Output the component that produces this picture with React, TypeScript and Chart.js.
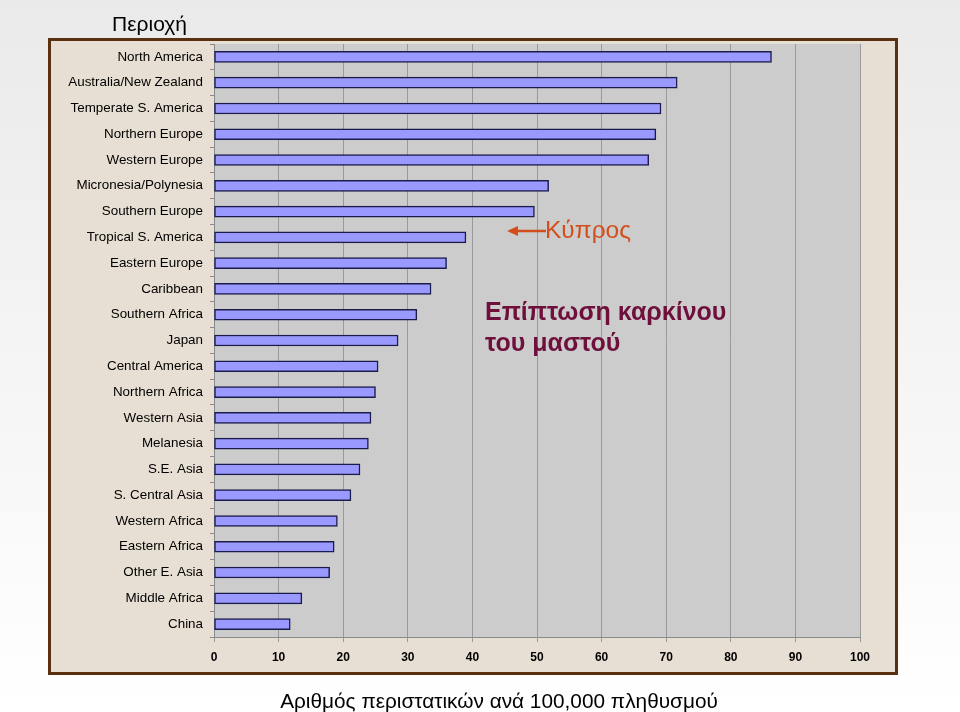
import React, { useEffect, useRef } from "react";
import { Chart, registerables } from "chart.js";

Chart.register(...registerables);

const regions = [
  "North America",
  "Australia/New Zealand",
  "Temperate S. America",
  "Northern Europe",
  "Western Europe",
  "Micronesia/Polynesia",
  "Southern Europe",
  "Tropical S. America",
  "Eastern Europe",
  "Caribbean",
  "Southern Africa",
  "Japan",
  "Central America",
  "Northern Africa",
  "Western Asia",
  "Melanesia",
  "S.E. Asia",
  "S. Central Asia",
  "Western Africa",
  "Eastern Africa",
  "Other E. Asia",
  "Middle Africa",
  "China",
];

const incidence = [
  86.3, 71.7, 69.2, 68.4, 67.3, 51.8, 49.6, 39.0, 36.0, 33.6, 31.4, 28.5,
  25.4, 25.0, 24.3, 23.9, 22.6, 21.2, 19.1, 18.6, 17.9, 13.6, 11.8,
];

const xMin = 0;
const xMax = 100;
const xStep = 10;

const titleRegion = "Περιοχή";
const titleAxis = "Αριθμός περιστατικών ανά 100,000 πληθυσμού";
const noteCyprus = "Κύπρος";
const noteLines = ["Επίπτωση καρκίνου", "του μαστού"];

const plotBg = {
  id: "plotBg",
  beforeDraw(chart: any) {
    const { ctx, chartArea } = chart;
    ctx.save();
    ctx.fillStyle = "#cccccc";
    ctx.fillRect(
      chartArea.left,
      chartArea.top,
      chartArea.right - chartArea.left,
      chartArea.bottom - chartArea.top
    );
    ctx.restore();
  },
};

export default function App() {
  const ref = useRef<HTMLCanvasElement>(null);

  useEffect(() => {
    if (!ref.current) return;
    const chart = new Chart(ref.current, {
      type: "bar",
      data: {
        labels: regions,
        datasets: [
          {
            data: incidence,
            backgroundColor: "#9999ff",
            borderColor: "#1c1c4c",
            borderWidth: 1.5,
            borderSkipped: false,
            barThickness: 11,
          },
        ],
      },
      options: {
        indexAxis: "y",
        animation: false,
        responsive: false,
        maintainAspectRatio: false,
        layout: { padding: { top: 44, right: 100, bottom: 0, left: 0 } },
        plugins: {
          legend: { display: false },
          tooltip: { enabled: false },
        },
        scales: {
          x: {
            min: xMin,
            max: xMax,
            ticks: {
              stepSize: xStep,
              color: "#000",
              padding: 8,
              font: { family: "Liberation Sans, Arial, sans-serif", size: 12, weight: "bold" },
            },
            grid: {
              color: "#9a9a9a",
              lineWidth: 1,
              tickLength: 5,
            },
            border: { color: "#8a8a8a", width: 1 },
            afterFit: (s: any) => {
              s.height = 75;
            },
          },
          y: {
            ticks: {
              color: "#000",
              padding: 7,
              autoSkip: false,
              font: { family: "Liberation Sans, Arial, sans-serif", size: 13.4 },
            },
            grid: {
              drawOnChartArea: false,
              offset: true,
              color: "#8a8a8a",
              tickLength: 4,
            },
            border: { color: "#8a8a8a", width: 1 },
            afterFit: (s: any) => {
              s.width = 214;
            },
          },
        },
      },
      plugins: [plotBg],
    });
    return () => chart.destroy();
  }, []);

  return (
    <div
      style={{
        position: "absolute",
        left: 0,
        top: 0,
        width: 960,
        height: 712,
        overflow: "hidden",
        background: "linear-gradient(#eaeaea, #ffffff)",
        fontFamily: "Liberation Sans, Arial, sans-serif",
      }}
    >
      <div
        style={{
          position: "absolute",
          left: 48,
          top: 38,
          width: 844,
          height: 631,
          border: "3px solid #5a300e",
          background: "#e7dfd3",
        }}
      />
      <canvas
        ref={ref}
        width={960}
        height={712}
        style={{ position: "absolute", left: 0, top: 0, width: 960, height: 712 }}
      />
      <div
        style={{
          position: "absolute",
          left: 112,
          top: 12,
          fontSize: 21,
          color: "#000",
          whiteSpace: "nowrap",
        }}
      >
        {titleRegion}
      </div>
      <div
        style={{
          position: "absolute",
          left: 0,
          width: 998,
          top: 689,
          textAlign: "center",
          fontSize: 20.8,
          color: "#000",
          whiteSpace: "nowrap",
        }}
      >
        {titleAxis}
      </div>
      <svg
        width={960}
        height={712}
        style={{ position: "absolute", left: 0, top: 0, pointerEvents: "none" }}
      >
        <line x1={516} y1={231} x2={546} y2={231} stroke="#d24f1c" strokeWidth={2.5} />
        <polygon points="507,231 518,226 518,236" fill="#d24f1c" />
      </svg>
      <div
        style={{
          position: "absolute",
          left: 545,
          top: 216,
          fontSize: 24.5,
          color: "#d24f1c",
          whiteSpace: "nowrap",
        }}
      >
        {noteCyprus}
      </div>
      <div
        style={{
          position: "absolute",
          left: 485,
          top: 296,
          fontSize: 25,
          fontWeight: "bold",
          lineHeight: "31px",
          color: "#6e0f3c",
          whiteSpace: "nowrap",
        }}
      >
        {noteLines.map((l, i) => (
          <div key={i}>{l}</div>
        ))}
      </div>
    </div>
  );
}
